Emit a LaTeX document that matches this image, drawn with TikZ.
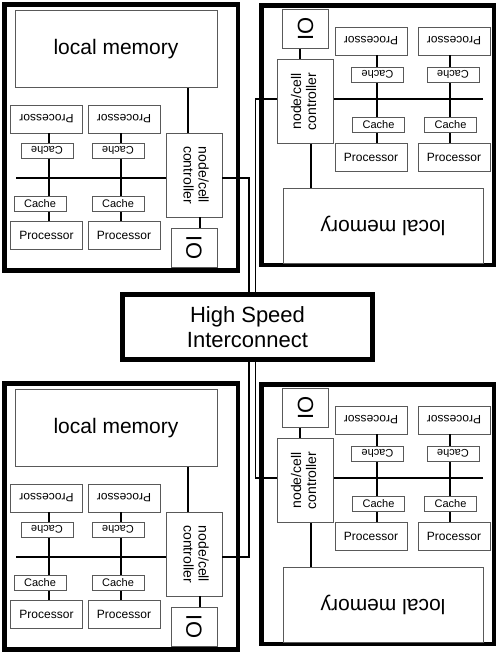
\documentclass[tikz,border=0pt]{standalone}
\usepackage{fontspec}
\setmainfont{Liberation Sans}
\begin{document}
\begin{tikzpicture}[x=1pt,y=-1pt,
  cellbox/.style={line width=4.5pt},
  unit/.style={draw=black!65, line width=0.7pt, fill=white, inner sep=0pt},
  proc/.style={unit, minimum width=72pt, minimum height=28pt, font=\fontsize{12}{14}\selectfont},
  cache/.style={unit, minimum width=52pt, minimum height=15pt, font=\fontsize{11}{13}\selectfont},
  memory/.style={unit, minimum width=202pt, minimum height=77pt, font=\fontsize{21}{24}\selectfont},
  ctrlbox/.style={unit, minimum width=56pt, minimum height=84pt, font=\fontsize{14}{15}\selectfont},
  iobox/.style={unit, minimum width=46pt, minimum height=39pt, font=\fontsize{22}{24}\selectfont},
  bus/.style={line width=2.6pt},
  link/.style={line width=1.8pt}]
\useasboundingbox (0,0) rectangle (500,656);

% interconnect in the middle
\node[draw, line width=4.5pt, minimum width=250pt, minimum height=65pt, align=center,
  font=\fontsize{22}{25}\selectfont] (hsi) at (247.5,327) {High Speed\\Interconnect};

% left cells (top and bottom)
\foreach \dy/\c in {0/a,379/b}{
\begin{scope}[shift={(0,\dy)}]
\draw[cellbox] (4.5,4.5) rectangle (238,270.5);
\coordinate (va\c) at (49,0); \coordinate (vb\c) at (121,0);
\coordinate (vm\c) at (188,0); \coordinate (vi\c) at (200,0);
\coordinate (bus\c) at (16,178); \coordinate (tap\c) at (249,178);
\node[memory] (mem\c) at (116,49) {local memory};
\node[proc] (pua\c) at (46.5,119) {\rotatebox{180}{Processor}};
\node[proc] (pub\c) at (124,119) {\rotatebox{180}{Processor}};
\node[proc] (pla\c) at (46.5,235.5) {Processor};
\node[proc] (plb\c) at (124,235.5) {Processor};
\draw[bus] (pua\c.south -| va\c) -- (pla\c.north -| va\c);
\draw[bus] (pub\c.south -| vb\c) -- (plb\c.north -| vb\c);
\node[cache] (cua\c) at (47,150.5) {\rotatebox{180}{Cache}};
\node[cache] (cub\c) at (118,150.5) {\rotatebox{180}{Cache}};
\node[cache] (cla\c) at (40,204) {Cache};
\node[cache] (clb\c) at (118,204) {Cache};
\node[ctrlbox] (ctrl\c) at (194,175)
  {\rotatebox{-90}{\begin{tabular}{@{}c@{}}node/cell\\controller\end{tabular}}};
\node[iobox] (io\c) at (194,247.5) {\rotatebox{-90}{IO}};
\draw[bus] (bus\c) -- (bus\c -| ctrl\c.west);
\draw[bus] (mem\c.south -| vm\c) -- (ctrl\c.north -| vm\c);
\draw[bus] (ctrl\c.south -| vi\c) -- (io\c.north -| vi\c);
\draw[bus] (ctrl\c.east |- tap\c) -- ([xshift=0.9pt]tap\c);
\end{scope}
}

% right cells (top and bottom)
\foreach \dy/\c in {0/c,379/d}{
\begin{scope}[shift={(0,\dy)}]
\draw[cellbox] (261.5,5.5) rectangle (494,265);
\coordinate (va\c) at (377,0); \coordinate (vb\c) at (450,0);
\coordinate (vm\c) at (311,0); \coordinate (vi\c) at (300,0);
\coordinate (bus\c) at (483,99); \coordinate (tap\c) at (255.5,99);
\node[iobox] (io\c) at (305.5,29) {\rotatebox{90}{IO}};
\node[ctrlbox] (ctrl\c) at (305.5,101.5)
  {\rotatebox{90}{\begin{tabular}{@{}c@{}}node/cell\\controller\end{tabular}}};
\node[proc] (pua\c) at (371,41) {\rotatebox{180}{Processor}};
\node[proc] (pub\c) at (454,41) {\rotatebox{180}{Processor}};
\node[proc] (pla\c) at (371,157.5) {Processor};
\node[proc] (plb\c) at (454,157.5) {Processor};
\draw[bus] (pua\c.south -| va\c) -- (pla\c.north -| va\c);
\draw[bus] (pub\c.south -| vb\c) -- (plb\c.north -| vb\c);
\node[cache] (cua\c) at (377.5,74.5) {\rotatebox{180}{Cache}};
\node[cache] (cub\c) at (453,74.5) {\rotatebox{180}{Cache}};
\node[cache] (cla\c) at (378.5,125) {Cache};
\node[cache] (clb\c) at (450.5,125) {Cache};
\node[memory, minimum width=200pt, minimum height=75pt] (mem\c) at (383,225.5)
  {\rotatebox{180}{local memory}};
\draw[bus] (bus\c) -- (bus\c -| ctrl\c.east);
\draw[bus] (ctrl\c.south -| vm\c) -- (mem\c.north -| vm\c);
\draw[bus] (io\c.south -| vi\c) -- (ctrl\c.north -| vi\c);
\draw[bus] (ctrl\c.west |- tap\c) -- ([xshift=-0.9pt]tap\c);
\end{scope}
}

% links to the interconnect
\draw[link] (tapa) -- (tapa |- hsi.north);
\draw[link] (tapc) -- (tapc |- hsi.north);
\draw[link] (tapb) -- (tapb |- hsi.south);
\draw[link] (tapd) -- (tapd |- hsi.south);
\end{tikzpicture}
\end{document}
